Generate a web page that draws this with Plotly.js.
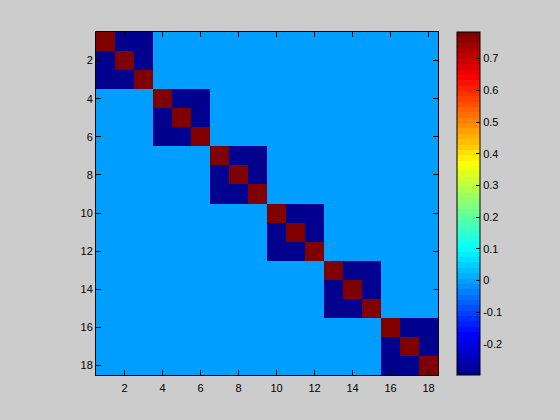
<!DOCTYPE html>
<html><head><meta charset="utf-8">
<script src="https://cdn.plot.ly/plotly-3.0.1.min.js"></script>
<style>html,body{margin:0;padding:0;background:#cccccc;}#chart{width:560px;height:420px;}</style>
</head><body><div id="chart"></div>
<script>
const xIdx = [1,2,3,4,5,6,7,8,9,10,11,12,13,14,15,16,17,18];
const yIdx = [1,2,3,4,5,6,7,8,9,10,11,12,13,14,15,16,17,18];
const D = 0.784, O = -0.298;
const zRows = [
 [D,O,O,0,0,0,0,0,0,0,0,0,0,0,0,0,0,0],
 [O,D,O,0,0,0,0,0,0,0,0,0,0,0,0,0,0,0],
 [O,O,D,0,0,0,0,0,0,0,0,0,0,0,0,0,0,0],
 [0,0,0,D,O,O,0,0,0,0,0,0,0,0,0,0,0,0],
 [0,0,0,O,D,O,0,0,0,0,0,0,0,0,0,0,0,0],
 [0,0,0,O,O,D,0,0,0,0,0,0,0,0,0,0,0,0],
 [0,0,0,0,0,0,D,O,O,0,0,0,0,0,0,0,0,0],
 [0,0,0,0,0,0,O,D,O,0,0,0,0,0,0,0,0,0],
 [0,0,0,0,0,0,O,O,D,0,0,0,0,0,0,0,0,0],
 [0,0,0,0,0,0,0,0,0,D,O,O,0,0,0,0,0,0],
 [0,0,0,0,0,0,0,0,0,O,D,O,0,0,0,0,0,0],
 [0,0,0,0,0,0,0,0,0,O,O,D,0,0,0,0,0,0],
 [0,0,0,0,0,0,0,0,0,0,0,0,D,O,O,0,0,0],
 [0,0,0,0,0,0,0,0,0,0,0,0,O,D,O,0,0,0],
 [0,0,0,0,0,0,0,0,0,0,0,0,O,O,D,0,0,0],
 [0,0,0,0,0,0,0,0,0,0,0,0,0,0,0,D,O,O],
 [0,0,0,0,0,0,0,0,0,0,0,0,0,0,0,O,D,O],
 [0,0,0,0,0,0,0,0,0,0,0,0,0,0,0,O,O,D]
];
const axTicks = [2,4,6,8,10,12,14,16,18];
const cbTicks = [-0.2,-0.1,0,0.1,0.2,0.3,0.4,0.5,0.6,0.7];
const cbTickText = ['-0.2','-0.1','0','0.1','0.2','0.3','0.4','0.5','0.6','0.7'];

// MATLAB jet(64), stepped
function jet(n){
  const m = Math.ceil(n/4);
  const u = [];
  for(let i=1;i<=m;i++) u.push(i/m);
  for(let i=1;i<m;i++) u.push(1);
  for(let i=m;i>=1;i--) u.push(i/m);
  const off = Math.ceil(m/2) - (n%4===1?1:0);
  const R=new Array(n).fill(0),G=new Array(n).fill(0),B=new Array(n).fill(0);
  for(let k=0;k<u.length;k++){
    const g = off + k + 1, r = g + m, b = g - m;
    if(g>=1&&g<=n) G[g-1]=u[k];
    if(r>=1&&r<=n) R[r-1]=u[k];
    if(b>=1&&b<=n) B[b-1]=u[k];
  }
  const cols=[];
  for(let i=0;i<n;i++) cols.push('rgb('+Math.round(R[i]*255)+','+Math.round(G[i]*255)+','+Math.round(B[i]*255)+')');
  return cols;
}
const jc = jet(64);
const cs = [];
for(let i=0;i<64;i++){ cs.push([i/64, jc[i]]); cs.push([(i+1)/64, jc[i]]); }

const font = {family:'Liberation Sans, Arial, sans-serif', size:11, color:'#000'};
Plotly.newPlot('chart', [{
  type:'heatmap', x:xIdx, y:yIdx, z:zRows,
  colorscale:cs, zmin:-0.298, zmax:0.784,
  showscale:true, xgap:0, ygap:0,
  colorbar:{
    x:1.0556, xanchor:'left', xpad:0, ypad:0, y:0.5, yanchor:'middle', len:1, lenmode:'fraction',
    thickness:23, thicknessmode:'pixels',
    outlinewidth:1, outlinecolor:'#000',
    tickmode:'array', tickvals:cbTicks, ticktext:cbTickText,
    ticks:'inside', ticklen:4, tickcolor:'#000', tickfont:font
  }
}], {
  width:560, height:420,
  paper_bgcolor:'#cccccc', plot_bgcolor:'#cccccc',
  margin:{l:96, r:122, t:32, b:45},
  font:font,
  xaxis:{range:[0.5,18.5], tickmode:'array', tickvals:axTicks, ticks:'inside', ticklen:5, ticklabelstandoff:3,
    tickcolor:'#000', showline:true, linecolor:'#000', linewidth:1, mirror:'allticks', showgrid:false, zeroline:false, tickfont:font},
  yaxis:{range:[18.5,0.5], tickmode:'array', tickvals:axTicks, ticks:'inside', ticklen:5,
    tickcolor:'#000', showline:true, linecolor:'#000', linewidth:1, mirror:'allticks', showgrid:false, zeroline:false, tickfont:font}
}, {staticPlot:true});
</script></body></html>
